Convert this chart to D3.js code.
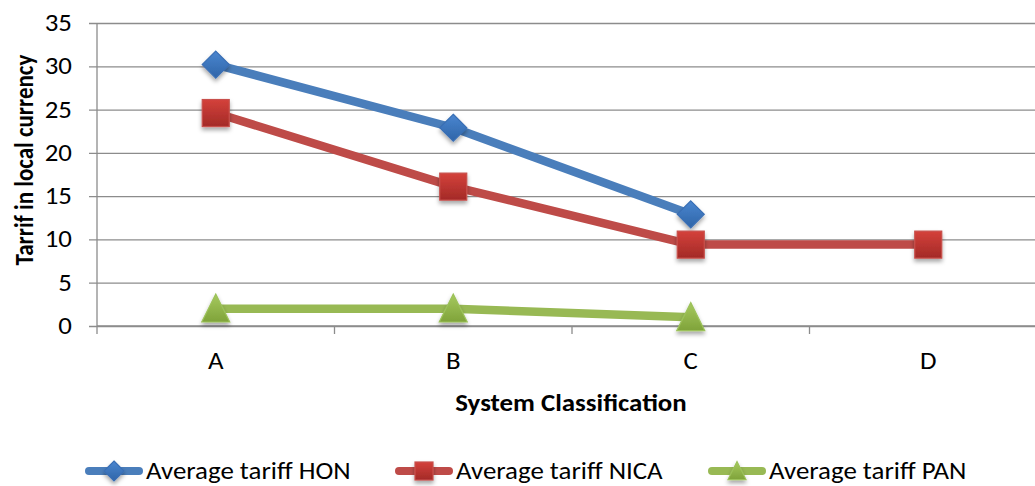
<!DOCTYPE html>
<html><head><meta charset="utf-8">
<script src="https://cdn.jsdelivr.net/npm/d3@7"></script>
<style>body{margin:0;background:#fff;} svg{display:block;font-family:Carlito,"Open Sans","Liberation Sans",sans-serif;}</style>
</head><body>
<svg id="c" width="1035" height="486"></svg>
<script>
const categories = ["A","B","C","D"];
const seriesNames = ["Average tariff HON","Average tariff NICA","Average tariff PAN"];
const honValues = [30.2, 22.9, 12.9, null];
const nicaValues = [24.6, 16.1, 9.4, 9.4];
const panValues = [2.0, 2.0, 1.0, null];
const yTicks = [0,5,10,15,20,25,30,35];

const svg = d3.select("#c");
const L = 97, R = 1047, T = 23, B = 326;
const FS = 24, SX = 1.12;
const x = d3.scaleBand().domain(categories).range([L, R]);
const y = d3.scaleLinear().domain([0, 35]).range([B, T]);

function htext(px, py, str, anchor, bold){
  return svg.append("text").attr("transform",`translate(${px},${py}) scale(${SX},1)`)
    .attr("text-anchor",anchor).attr("font-size",FS).attr("fill","#000")
    .attr("font-weight", bold ? "bold" : "normal").text(str);
}

const defs = svg.append("defs");
function grad(id, c1, c2){
  const g = defs.append("linearGradient").attr("id", id).attr("x1",0).attr("y1",0).attr("x2",0).attr("y2",1);
  g.append("stop").attr("offset","0%").attr("stop-color",c1);
  g.append("stop").attr("offset","100%").attr("stop-color",c2);
}
grad("gBlue","#4a86d0","#2f65a8");
grad("gRed","#d4413b","#a32a27");
grad("gGreen","#a6c95e","#7fa33a");
const f = defs.append("filter").attr("id","sh").attr("x","-50%").attr("y","-50%").attr("width","200%").attr("height","200%");
f.append("feDropShadow").attr("dx",0).attr("dy",3).attr("stdDeviation",2).attr("flood-color","#000").attr("flood-opacity",0.35);

// gridlines
const yAxis = d3.axisLeft(y).tickValues(yTicks).tickSize(-(R - L)).tickSizeOuter(0).tickFormat("");
const gy = svg.append("g").attr("transform", `translate(${L},0)`).call(yAxis);
gy.select(".domain").remove();
gy.selectAll(".tick line").attr("stroke","#8c8c8c").attr("stroke-width",1.3).attr("x1",-8);
yTicks.forEach(t => htext(72, y(t)+8, String(t), "end", false));
// y axis line
svg.append("line").attr("x1",L).attr("x2",L).attr("y1",T).attr("y2",B+8).attr("stroke","#8c8c8c").attr("stroke-width",1.3);

// x axis
const gx = svg.append("g").attr("transform", `translate(0,${B})`);
gx.append("line").attr("x1",L).attr("x2",R).attr("stroke","#8c8c8c").attr("stroke-width",1.3);
categories.forEach((c,i)=>{
  const bx = x(c) + x.bandwidth();
  gx.append("line").attr("x1",bx).attr("x2",bx).attr("y1",0).attr("y2",8).attr("stroke","#8c8c8c").attr("stroke-width",1.3);
  htext(x(c)+x.bandwidth()/2, B+43, c, "middle", false);
});

// axis titles
htext(571, 411, "System Classification", "middle", true);
svg.append("text").attr("transform",`translate(33,160) rotate(-90) scale(1,${SX})`).attr("text-anchor","middle").attr("font-size",23).attr("font-weight","bold").text("Tarrif in local currency");

const series = [
  {name: seriesNames[0], values: honValues, color:"#4a7ebb", fill:"url(#gBlue)", stroke:"#3a6fb5", shape:"diamond"},
  {name: seriesNames[1], values: nicaValues, color:"#be4b48", fill:"url(#gRed)", stroke:"#c8504c", shape:"square"},
  {name: seriesNames[2], values: panValues, color:"#98b954", fill:"url(#gGreen)", stroke:"#9cc25a", shape:"triangle"}
];
const cx = c => x(c) + x.bandwidth()/2;
function marker(g, shape, px, py, s, fill, stroke){
  let p;
  if (shape==="diamond") p = g.append("path").attr("d",`M${px},${py-s}L${px+s},${py}L${px},${py+s}L${px-s},${py}Z`);
  else if (shape==="square") p = g.append("rect").attr("x",px-s).attr("y",py-s).attr("width",2*s).attr("height",2*s);
  else p = g.append("path").attr("d",`M${px},${py-s*1.05}L${px+s},${py+s*0.95}L${px-s},${py+s*0.95}Z`);
  p.attr("fill",fill).attr("stroke",stroke).attr("stroke-width",1.2).attr("filter","url(#sh)");
}
const line = d3.line().defined(d=>d.v!=null).x(d=>cx(d.c)).y(d=>y(d.v));
series.forEach(s=>{
  const pts = categories.map((c,i)=>({c, v:s.values[i]}));
  svg.append("path").datum(pts).attr("d",line).attr("fill","none").attr("stroke",s.color).attr("stroke-width",8.5).attr("stroke-linejoin","round");
});
series.forEach(s=>{
  const g = svg.append("g");
  categories.forEach((c,i)=>{
    const v = s.values[i];
    if (v==null) return;
    const sz = s.shape==="diamond"?13.5: s.shape==="square"?13.5:14;
    marker(g, s.shape, cx(c), y(v), sz, s.fill, s.stroke);
  });
});

// legend
const legX = [85, 395, 708];
series.forEach((s,i)=>{
  const g = svg.append("g");
  const x0 = legX[i], yy = 471;
  g.append("line").attr("x1",x0+4).attr("x2",x0+58-4).attr("y1",yy).attr("y2",yy).attr("stroke",s.color).attr("stroke-width",8).attr("stroke-linecap","round");
  marker(g, s.shape, x0+29, yy, s.shape==="diamond"?10:9, s.fill, s.stroke);
  htext(x0+61, yy+8, s.name, "start", false);
});
</script>
</body></html>
